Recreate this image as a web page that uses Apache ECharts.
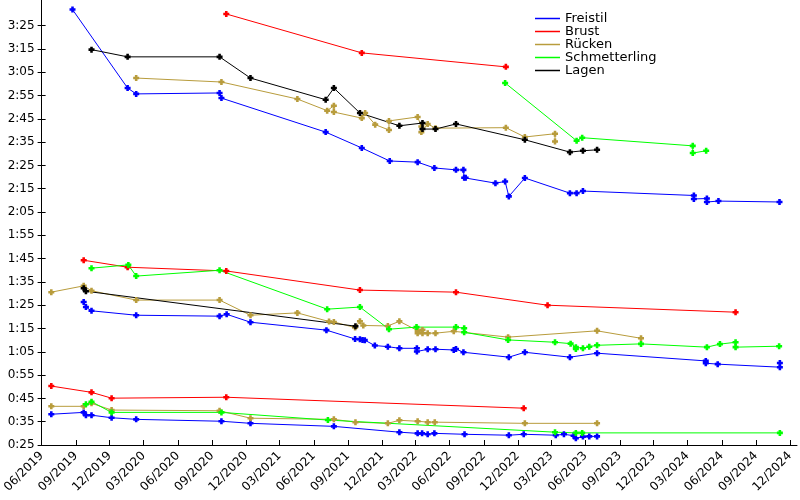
<!DOCTYPE html>
<html><head><meta charset="utf-8">
<script src="https://cdn.jsdelivr.net/npm/echarts@6/dist/echarts.min.js"></script>
<style>html,body{margin:0;padding:0;background:#fff}#c{width:800px;height:500px}</style>
</head><body><div id="c"></div>
<script>
// Times in seconds, dates YYYY-MM-DD
const freistil200 = [['2019-08-23',211.9],['2020-01-18',178.2],['2020-02-10',175.7],['2020-09-21',176.1],['2020-09-26',173.9],['2021-07-03',159.3],['2021-10-08',152.5],['2021-12-22',146.9],['2022-03-07',146.4],['2022-04-21',143.9],['2022-06-18',143.1],['2022-07-08',143.1],['2022-07-10',139.7],['2022-07-14',139.7],['2022-10-02',137.4],['2022-10-28',138.1],['2022-11-07',131.7],['2022-12-20',139.6],['2023-04-20',133.1],['2023-05-08',133.1],['2023-05-25',134.0],['2024-03-18',132.1],['2024-03-18',130.6],['2024-04-22',130.8],['2024-04-22',129.3],['2024-05-23',129.7],['2024-11-03',129.3]];
const freistil100 = [['2019-09-22',86.4],['2019-09-28',84.2],['2019-10-13',82.6],['2020-02-10',80.7],['2020-09-21',80.3],['2020-10-10',81.1],['2020-12-13',77.7],['2021-07-05',74.3],['2021-09-20',70.5],['2021-10-03',70.4],['2021-10-10',70.1],['2021-10-16',70.0],['2021-11-12',67.7],['2021-12-17',67.2],['2022-01-17',66.5],['2022-03-05',66.5],['2022-03-05',65.1],['2022-04-03',66.1],['2022-04-24',66.1],['2022-06-12',65.8],['2022-06-18',66.2],['2022-07-08',64.8],['2022-11-07',62.7],['2022-12-20',64.8],['2023-04-20',62.7],['2023-07-02',64.4],['2024-04-19',61.1],['2024-04-19',60.1],['2024-05-21',59.7],['2024-11-04',58.4],['2024-11-04',60.2]];
const freistil50 = [['2019-06-27',38.2],['2019-09-22',39.0],['2019-09-28',37.8],['2019-10-13',37.8],['2019-12-06',36.7],['2020-02-10',36.0],['2020-09-26',35.2],['2020-12-13',34.3],['2021-07-25',33.0],['2022-01-17',30.5],['2022-03-07',30.0],['2022-03-19',30.0],['2022-04-03',29.6],['2022-04-21',30.0],['2022-07-11',29.6],['2022-11-07',29.2],['2022-12-17',29.6],['2023-03-13',29.2],['2023-04-04',29.6],['2023-04-30',29.0],['2023-05-06',27.9],['2023-05-25',28.6],['2023-06-11',28.7],['2023-07-02',28.7]];
const brust200 = [['2020-10-09',210.0],['2021-10-08',193.3],['2022-10-30',187.3]];
const brust100 = [['2019-09-22',104.3],['2020-01-18',101.3],['2020-10-09',99.7],['2021-10-03',91.5],['2022-06-18',90.6],['2023-02-19',85.0],['2024-07-08',82.0]];
const brust50 = [['2019-06-27',50.3],['2019-10-13',47.6],['2019-12-06',45.1],['2020-10-09',45.5],['2022-12-17',40.8]];
const ruecken200 = [['2020-02-10',182.5],['2020-09-26',180.8],['2021-04-18',173.5],['2021-07-07',168.5],['2021-07-25',170.6],['2021-07-25',167.9],['2021-10-08',165.3],['2021-10-17',167.5],['2021-11-13',162.5],['2021-12-20',160.2],['2021-12-20',164.1],['2022-03-07',165.8],['2022-03-17',161.7],['2022-03-17',159.3],['2022-04-03',162.8],['2022-04-24',161.0],['2022-10-30',161.2],['2022-12-20',157.2],['2023-03-11',158.6],['2023-03-11',155.3]];
const ruecken100 = [['2019-06-27',90.6],['2019-09-22',93.3],['2019-10-13',91.2],['2020-02-10',87.2],['2020-09-21',87.2],['2020-12-13',80.7],['2021-04-18',81.7],['2021-07-12',78.0],['2021-07-25',77.8],['2021-09-20',75.4],['2021-10-03',78.1],['2021-10-12',76.3],['2021-12-17',76.1],['2022-01-17',78.1],['2022-03-07',74.1],['2022-03-07',73.0],['2022-03-20',74.4],['2022-03-20',73.0],['2022-04-03',73.0],['2022-04-24',73.0],['2022-06-12',73.8],['2022-11-05',71.3],['2023-07-02',74.0],['2023-10-28',70.8]];
const ruecken50 = [['2019-06-27',41.6],['2019-09-22',41.6],['2019-10-13',42.9],['2019-12-06',40.0],['2020-09-21',39.7],['2020-12-13',36.5],['2021-07-25',36.0],['2021-09-21',34.8],['2021-12-17',34.3],['2022-01-17',35.6],['2022-03-07',35.2],['2022-04-03',34.8],['2022-04-22',34.8],['2022-12-20',34.3],['2023-07-02',34.3]];
const schmetterling200 = [['2022-10-28',180.4],['2023-05-08',155.6],['2023-05-23',156.9],['2024-03-15',153.4],['2024-03-15',150.3],['2024-04-20',151.3]];
const schmetterling100 = [['2019-10-13',100.9],['2020-01-20',102.3],['2020-02-10',97.5],['2020-09-21',100.0],['2021-07-07',83.3],['2021-10-03',84.2],['2021-12-20',74.7],['2022-03-04',75.6],['2022-06-18',75.6],['2022-07-10',75.1],['2022-07-10',73.4],['2022-11-05',70.1],['2023-03-11',69.1],['2023-04-22',68.5],['2023-05-06',67.0],['2023-05-06',66.2],['2023-05-25',66.5],['2023-06-11',67.2],['2023-07-02',67.8],['2023-10-28',68.4],['2024-04-22',67.0],['2024-05-27',68.3],['2024-07-08',69.1],['2024-07-08',67.0],['2024-11-02',67.4]];
const schmetterling50 = [['2019-09-28',42.5],['2019-10-13',43.6],['2019-12-06',39.0],['2020-09-26',39.0],['2021-07-09',35.7],['2023-03-11',30.5],['2023-05-06',30.2],['2023-05-23',30.2],['2024-11-04',30.2]];
const lagen200 = [['2019-10-13',194.7],['2020-01-18',191.6],['2020-09-21',191.6],['2020-12-13',182.5],['2021-07-03',173.2],['2021-07-25',178.2],['2021-10-03',167.5],['2022-01-17',162.0],['2022-03-20',163.2],['2022-03-20',160.6],['2022-04-24',160.6],['2022-06-18',162.8],['2022-12-20',156.0],['2023-04-20',150.7],['2023-05-25',151.3],['2023-07-02',151.7]];
const lagen100 = [['2019-09-22',92.3],['2019-09-28',91.0],['2021-09-21',76.0]];

const strokeNames = ['Freistil','Brust','Rücken','Schmetterling','Lagen'];
const strokeColors = ['#0000ff','#ff0000','#b89c3c','#00ff00','#000000'];
const segments = [
  [0, freistil200],[0, freistil100],[0, freistil50],
  [1, brust200],[1, brust100],[1, brust50],
  [2, ruecken200],[2, ruecken100],[2, ruecken50],
  [3, schmetterling200],[3, schmetterling100],[3, schmetterling50],
  [4, lagen200],[4, lagen100]
];
const yTicks = [25,35,45,55,65,75,85,95,105,115,125,135,145,155,165,175,185,195,205];
const xTickMonths = [];
for (let k = 0; k <= 22; k++) { const mi = 5 + 3*k; xTickMonths.push([2019 + Math.floor(mi/12), mi % 12]); }

function ts(s){ const p = s.split('-').map(Number); return new Date(p[0], p[1]-1, p[2]).getTime(); }
const xTicks = xTickMonths.map(a => new Date(a[0], a[1], 1).getTime());
function fmtTime(v){ const m = Math.floor(v/60); const s = Math.round(v - m*60); return m + ':' + (s<10?'0':'') + s; }
function fmtMonth(v){ const d = new Date(v + 43200000); const m = d.getMonth()+1; return (m<10?'0':'') + m + '/' + d.getFullYear(); }

const plus = 'path://M2,0H5V2H7V5H5V7H2V5H0V2H2Z';
const series = segments.map(([i, arr]) => ({
  name: strokeNames[i], type: 'line',
  data: arr.map(p => [ts(p[0]), p[1]]),
  symbol: plus, symbolSize: 6, showSymbol: true,
  lineStyle: { width: 1, color: strokeColors[i] },
  itemStyle: { color: strokeColors[i] },
  emphasis: { disabled: true }, silent: true, animation: false
}));

const font = 'DejaVu Sans';
const chart = echarts.init(document.getElementById('c'), null, { renderer: 'canvas' });
chart.setOption({
  backgroundColor: '#fff',
  animation: false,
  grid: { left: 40, right: 3, top: 0, bottom: 55 },
  legend: {
    data: strokeNames, orient: 'vertical', left: 535, top: 12, padding: 0,
    itemWidth: 25, itemHeight: 1.5, itemGap: 0, icon: 'rect', selectedMode: false,
    textStyle: { fontFamily: font, fontSize: 13, lineHeight: 13, color: '#000' }
  },
  xAxis: {
    type: 'value', min: ts('2019-06-01'), max: ts('2024-12-20'),
    axisLine: { lineStyle: { color: '#000', width: 1 } },
    axisTick: { inside: true, length: 5, lineStyle: { color: '#000' }, customValues: xTicks },
    axisLabel: { rotate: 45, margin: 9, fontFamily: font, fontSize: 12, color: '#000',
      customValues: xTicks, formatter: v => fmtMonth(v), hideOverlap: false,
      showMinLabel: true, showMaxLabel: true },
    splitLine: { show: false }
  },
  yAxis: [{
    type: 'value', min: 25, max: 216,
    axisLine: { show: true, lineStyle: { color: '#000', width: 1 } },
    axisTick: { show: true, inside: false, length: 4, lineStyle: { color: '#000' }, customValues: yTicks },
    axisLabel: { margin: 7, fontFamily: font, fontSize: 12, color: '#000',
      customValues: yTicks, formatter: v => fmtTime(v) },
    splitLine: { show: false }
  }, {
    type: 'value', min: 25, max: 216, position: 'left', offset: 0,
    axisLine: { show: false },
    axisTick: { show: true, inside: true, length: 4, lineStyle: { color: '#000' }, customValues: yTicks },
    axisLabel: { show: false }, splitLine: { show: false }
  }],
  series: series
});
</script></body></html>
